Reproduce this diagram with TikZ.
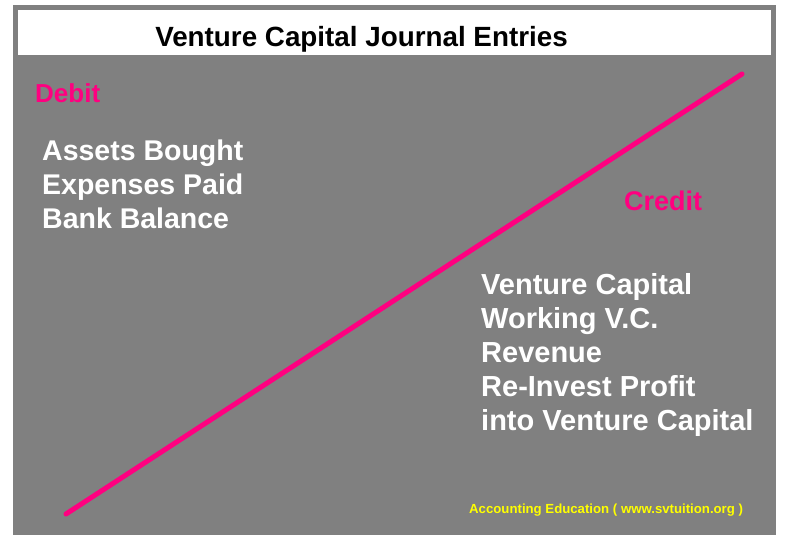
\documentclass[tikz,border=0pt]{standalone}
\usepackage{fontspec}
\setmainfont{Liberation Sans}
\usepackage{tikz}
\definecolor{slidegray}{HTML}{808080}
\definecolor{vcpink}{HTML}{FF0080}
\definecolor{vcyellow}{HTML}{FFFF00}

\begin{document}
\begin{tikzpicture}[x=1pt, y=-1pt,
    boxtext/.style={inner sep=0pt, text=white, align=left, anchor=north west},
    sidetext/.style={inner sep=0pt, text=vcpink, anchor=base west}]
    % --- 1. canvas, slide and title bar ---
    \useasboundingbox[fill=white] (0,0) rectangle (790,544);
    \fill[slidegray] (13,5) rectangle (776,535);
    \fill[white] (18,10) rectangle (771,55);
    \node[inner sep=0pt, anchor=base, font=\bfseries\fontsize{27.8}{30}\selectfont] (title) at (361.5,46) {Venture Capital Journal Entries};
    
    % --- 2. the dividing line ---
    \coordinate (L_low) at (66,514);
    \coordinate (L_high) at (742,74);
    \draw[vcpink, line width=5pt, line cap=round] (L_low) -- (L_high);
    
    % --- 3. debit side ---
    \node[sidetext, font=\bfseries\fontsize{26}{30}\selectfont] (debit) at (35,102) {Debit};
    \node[boxtext, font=\bfseries\fontsize{28.5}{33.8}\selectfont] (debitlist) at (42,140) {Assets Bought\\Expenses Paid\\Bank Balance};
    
    % --- 4. credit side ---
    \node[sidetext, font=\bfseries\fontsize{27}{30}\selectfont] (credit) at (624,210) {Credit};
    \node[boxtext, font=\bfseries\fontsize{29}{34}\selectfont] (creditlist) at (481,273) {Venture Capital\\Working V.C.\\Revenue\\Re-Invest Profit\\into Venture Capital};
    
    % --- 5. footer ---
    \node[sidetext, text=vcyellow, font=\bfseries\fontsize{13.2}{15}\selectfont] (footer) at (469,513) {Accounting Education ( www.svtuition.org )};
\end{tikzpicture}
\end{document}
